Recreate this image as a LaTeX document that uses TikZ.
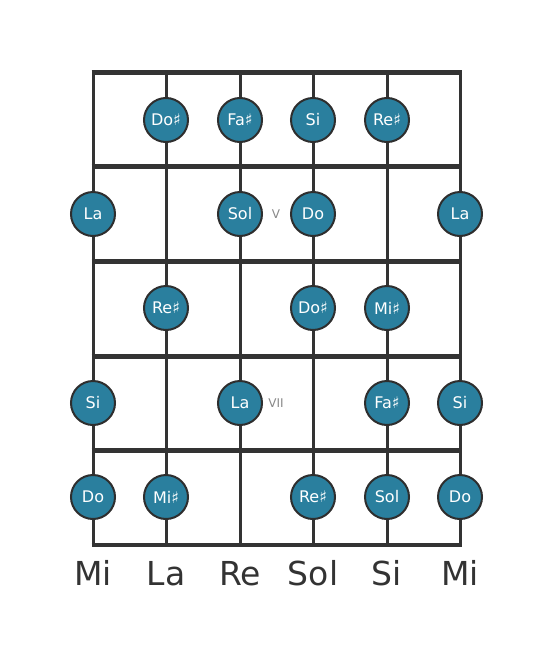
\documentclass[tikz,border=0pt]{standalone}
\usepackage{fontspec}
\setmainfont{DejaVu Sans}
\definecolor{notefill}{HTML}{2A7F9E}
\definecolor{ink}{HTML}{333333}
\definecolor{pos}{HTML}{888888}
\begin{document}
\begin{tikzpicture}[x=1pt,y=-1pt,
  note/.style={circle,draw=ink!90!black,line width=2pt,fill=notefill,minimum size=44pt,inner sep=0pt,text=white,font=\fontsize{16}{16}\selectfont},
  strline/.style={draw=ink,line width=3pt},
  fretline/.style={draw=ink,line width=5pt},
  strlabel/.style={text=ink,font=\fontsize{33}{33}\selectfont,anchor=base},
  posmark/.style={text=pos,font=\fontsize{12}{12}\selectfont}]
\useasboundingbox (0,0) rectangle (553,656);
% strings
\foreach \x in {93,166,240,313,387,460} \draw[strline] (\x,72) -- (\x,545);
% frets
\foreach \y in {72,166,261,356,450} \draw[fretline] (91.5,\y) -- (461.5,\y);
\draw[draw=ink,line width=4pt] (91.5,545) -- (461.5,545);
% notes
\node[note] (n11) at (166,120) {Do♯};
\node[note] (n12) at (240,120) {Fa♯};
\node[note] (n13) at (313,120) {Si};
\node[note] (n14) at (387,120) {Re♯};
\node[note] (n21) at (93,214) {La};
\node[note] (n22) at (240,214) {Sol};
\node[note] (n23) at (313,214) {Do};
\node[note] (n24) at (460,214) {La};
\node[posmark] (p5) at (276,214) {V};
\node[note] (n31) at (166,308) {Re♯};
\node[note] (n32) at (313,308) {Do♯};
\node[note] (n33) at (387,308) {Mi♯};
\node[note] (n41) at (93,403) {Si};
\node[note] (n42) at (240,403) {La};
\node[note] (n43) at (387,403) {Fa♯};
\node[note] (n44) at (460,403) {Si};
\node[posmark] (p7) at (276,403) {VII};
\node[note] (n51) at (93,497) {Do};
\node[note] (n52) at (166,497) {Mi♯};
\node[note] (n53) at (313,497) {Re♯};
\node[note] (n54) at (387,497) {Sol};
\node[note] (n55) at (460,497) {Do};
% string names
\node[strlabel] (s1) at (93,585) {Mi};
\node[strlabel] (s2) at (166,585) {La};
\node[strlabel] (s3) at (240,585) {Re};
\node[strlabel] (s4) at (313,585) {Sol};
\node[strlabel] (s5) at (387,585) {Si};
\node[strlabel] (s6) at (460,585) {Mi};
\end{tikzpicture}
\end{document}
